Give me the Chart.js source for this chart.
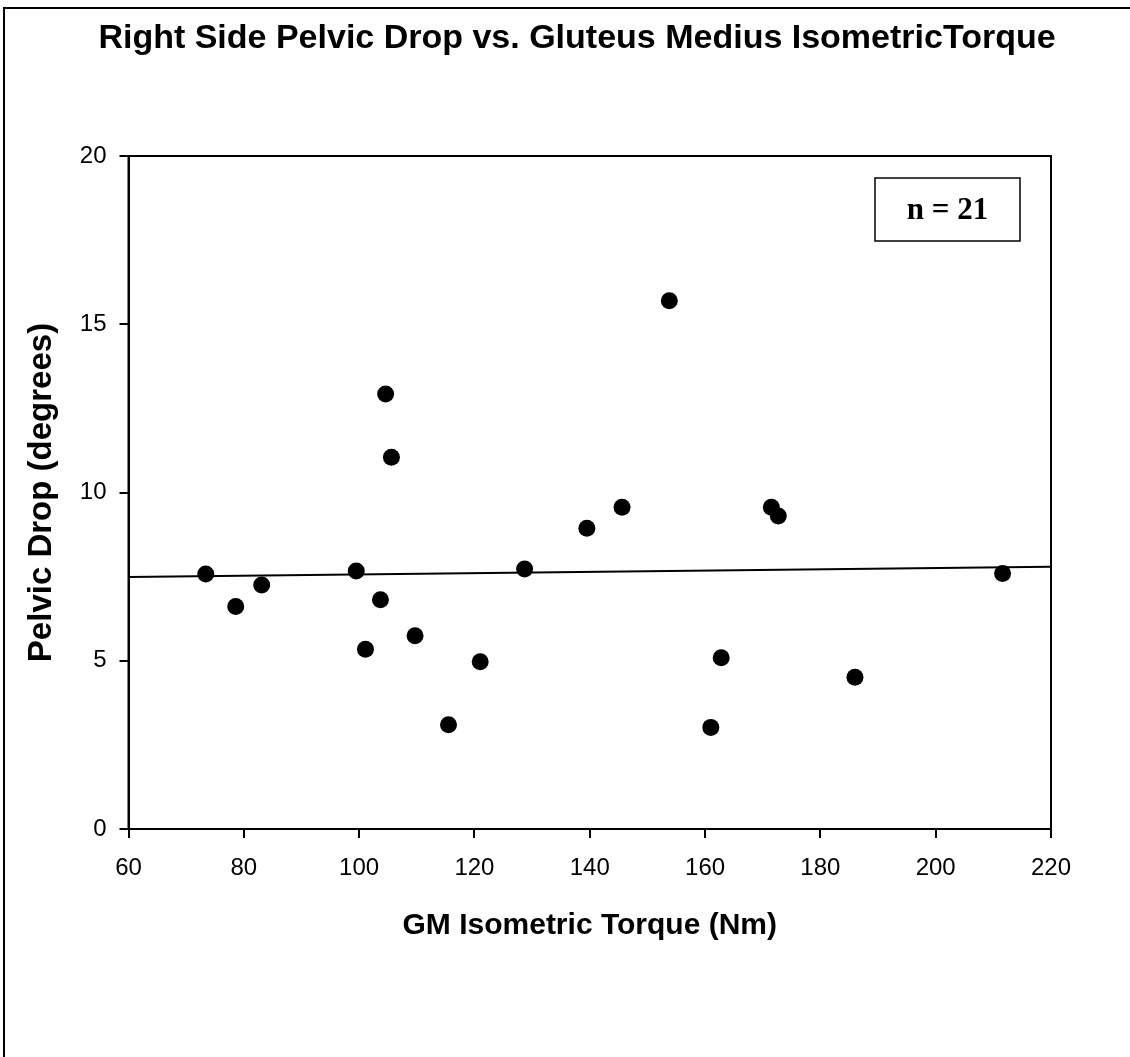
<!DOCTYPE html>
<html>
<head>
<meta charset="utf-8">
<title>Right Side Pelvic Drop vs. Gluteus Medius Isometric Torque</title>
<script src="https://cdn.jsdelivr.net/npm/chart.js@4"></script>
<style>
    body { margin: 0; background: #fff; }
    #frame {
        position: absolute; left: 3px; top: 7px; width: 1300px; height: 1300px;
        border-left: 2px solid #000; border-top: 2px solid #000;
    }
    #canvas { position: absolute; left: 0; top: 0; }
</style>
</head>
<body>
<div id="frame"></div>
<canvas id="canvas" width="1130" height="1057"></canvas>
<script>
    // GM isometric torque (Nm) and right side pelvic drop (degrees), one per subject
    const torque = [73.4, 78.6, 83.1, 99.5, 101.1, 103.7, 104.6, 105.6, 109.7, 115.5, 121.0,
        128.7, 139.5, 145.6, 153.8, 161.0, 162.8, 171.5, 172.7, 186.0, 211.6];
    const drop = [7.58, 6.61, 7.25, 7.67, 5.34, 6.81, 12.93, 11.05, 5.74, 3.10, 4.97,
        7.73, 8.94, 9.56, 15.70, 3.02, 5.09, 9.56, 9.30, 4.51, 7.59];

    // regression line end points
    const fitX = [60, 220];
    const fitY = [7.49, 7.79];

    const xTicks = [60, 80, 100, 120, 140, 160, 180, 200, 220];
    const yTicks = [0, 5, 10, 15, 20];
    const sampleLabel = 'n = 21';

    const FONT = '"Liberation Sans", Arial, sans-serif';

    // box round the plot area + the "n = 21" note
    const framePlugin = {
        id: 'frame',
        afterDraw: (chart) => {
            const { ctx, chartArea: a } = chart;
            ctx.save();
            ctx.strokeStyle = '#000';
            ctx.lineWidth = 2;
            ctx.strokeRect(a.left, a.top, a.right - a.left, a.bottom - a.top);

            const bx = a.right - 176, by = a.top + 22, bw = 145, bh = 63;
            ctx.lineWidth = 1.5;
            ctx.strokeRect(bx, by, bw, bh);
            ctx.fillStyle = '#000';
            ctx.font = 'bold 31px "Liberation Serif", "Times New Roman", serif';
            ctx.textAlign = 'center';
            ctx.textBaseline = 'middle';
            ctx.fillText(sampleLabel, bx + bw / 2, by + bh / 2 + 1);
            ctx.restore();
        }
    };

    const ctx = document.getElementById('canvas').getContext('2d');
    window.myChart = new Chart(ctx, {
        type: 'scatter',
        data: {
            datasets: [{
                label: 'Subjects',
                data: torque.map((t, i) => ({ x: t, y: drop[i] })),
                backgroundColor: '#000',
                borderWidth: 0,
                pointRadius: 8.5,
                pointHoverRadius: 8.5
            }, {
                type: 'line',
                label: 'Fit',
                data: fitX.map((t, i) => ({ x: t, y: fitY[i] })),
                borderColor: '#000',
                borderWidth: 2,
                pointRadius: 0,
                fill: false
            }]
        },
        options: {
            responsive: false,
            animation: false,
            layout: { padding: { left: 24, right: 0, top: 0, bottom: 0 } },
            plugins: {
                legend: { display: false },
                tooltip: { enabled: false },
                title: {
                    display: true,
                    text: 'Right Side Pelvic Drop vs. Gluteus Medius IsometricTorque',
                    color: '#000',
                    font: { family: FONT, size: 34, weight: 'bold' },
                    padding: { top: 18.6, bottom: 96.6 }
                }
            },
            scales: {
                x: {
                    type: 'linear',
                    min: xTicks[0],
                    max: xTicks[xTicks.length - 1],
                    afterBuildTicks: (s) => { s.ticks = xTicks.map((v) => ({ value: v })); },
                    afterFit: (s) => { s.height = 1057 - 829; },
                    grid: { drawOnChartArea: false, color: '#000', tickLength: 9, lineWidth: 2 },
                    border: { color: '#000', width: 2 },
                    ticks: { color: '#000', padding: 16, font: { family: FONT, size: 24 } },
                    title: {
                        display: true,
                        text: 'GM Isometric Torque (Nm)',
                        color: '#000',
                        font: { family: FONT, size: 30, weight: 'bold' },
                        padding: { top: 0, bottom: 113 }
                    }
                },
                y: {
                    type: 'linear',
                    min: yTicks[0],
                    max: yTicks[yTicks.length - 1],
                    afterBuildTicks: (s) => { s.ticks = yTicks.map((v) => ({ value: v })); },
                    afterFit: (s) => { s.width = 128.5 - 24; },
                    grid: { drawOnChartArea: false, color: '#000', tickLength: 9, lineWidth: 2 },
                    border: { color: '#000', width: 2 },
                    ticks: { color: '#000', padding: 13, font: { family: FONT, size: 24 } },
                    title: {
                        display: true,
                        text: 'Pelvic Drop (degrees)',
                        color: '#000',
                        font: { family: FONT, size: 33, weight: 'bold' },
                        padding: { top: -2, bottom: 0 }
                    }
                },
                // empty right-hand axis, only holds the space right of the plot
                yRight: {
                    type: 'linear',
                    position: 'right',
                    min: yTicks[0],
                    max: yTicks[yTicks.length - 1],
                    afterFit: (s) => { s.width = 1130 - 1051; },
                    grid: { display: false },
                    border: { display: false },
                    ticks: { display: false }
                }
            }
        },
        plugins: [framePlugin]
    });
</script>
</body>
</html>
